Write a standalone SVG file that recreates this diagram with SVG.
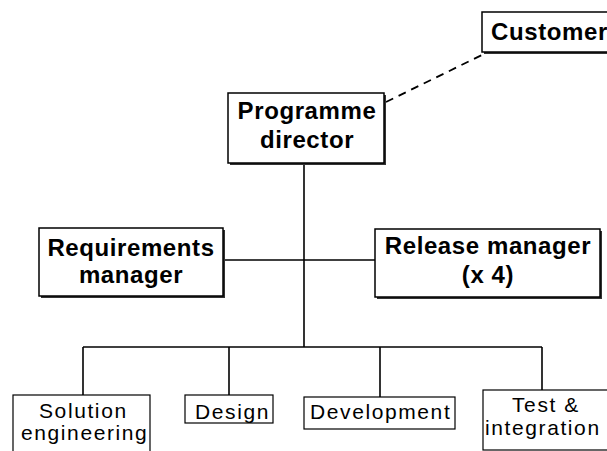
<svg xmlns="http://www.w3.org/2000/svg" width="607" height="451" viewBox="0 0 607 451">
<style>
.bg{fill:#fff}
.shadow{fill:#333}
.box{fill:#fff;stroke:#000;stroke-width:1.5}
.sbox{fill:#fff;stroke:#000;stroke-width:1.2}
.bt{font-family:"Liberation Sans",Arial,sans-serif;font-weight:bold;font-size:24px;letter-spacing:0.6px;fill:#000}
.nt{font-family:"Liberation Sans",Arial,sans-serif;font-size:21px;letter-spacing:1.6px;fill:#000}
.conn{stroke:#000;stroke-width:1.6;fill:none}
.dash{stroke:#000;stroke-width:1.8;fill:none;stroke-dasharray:8,6}
</style>
<rect class="bg" x="0" y="0" width="607" height="451"/>
<g id="connectors">
<line class="conn" x1="304" y1="163" x2="304" y2="347"/>
<line class="conn" x1="223" y1="260" x2="375" y2="260"/>
<line class="conn" x1="83" y1="347" x2="542" y2="347"/>
<line class="conn" x1="83" y1="347" x2="83" y2="395"/>
<line class="conn" x1="229" y1="347" x2="229" y2="395"/>
<line class="conn" x1="380" y1="347" x2="380" y2="397"/>
<line class="conn" x1="542" y1="347" x2="542" y2="390"/>
<line class="dash" x1="386" y1="102" x2="486" y2="53"/>
</g>
<g id="customer">
<rect class="shadow" x="484" y="14" width="140" height="40"/>
<rect class="box" x="482" y="12" width="140" height="40"/>
<text class="bt" x="491" y="40">Customer</text>
</g>
<g id="programme-director">
<rect class="shadow" x="230" y="95" width="156" height="70"/>
<rect class="box" x="228" y="93" width="156" height="70"/>
<text class="bt" x="307" y="119" text-anchor="middle">Programme</text>
<text class="bt" x="307" y="148" text-anchor="middle">director</text>
</g>
<g id="requirements-manager">
<rect class="shadow" x="41" y="230" width="184" height="68"/>
<rect class="box" x="39" y="228" width="184" height="68"/>
<text class="bt" x="131" y="256" text-anchor="middle">Requirements</text>
<text class="bt" x="131" y="283" text-anchor="middle">manager</text>
</g>
<g id="release-manager">
<rect class="shadow" x="377" y="231" width="225" height="68"/>
<rect class="box" x="375" y="229" width="225" height="68"/>
<text class="bt" x="488" y="254" text-anchor="middle">Release manager</text>
<text class="bt" x="488" y="283" text-anchor="middle">(x 4)</text>
</g>
<g id="solution-engineering">
<rect class="sbox" x="13" y="395" width="137" height="70"/>
<text class="nt" x="39" y="418">Solution</text>
<text class="nt" x="21" y="440">engineering</text>
</g>
<g id="design">
<rect class="sbox" x="185" y="395" width="88" height="28"/>
<text class="nt" x="195" y="419">Design</text>
</g>
<g id="development">
<rect class="sbox" x="304" y="397" width="151" height="32"/>
<text class="nt" x="310" y="419">Development</text>
</g>
<g id="test-integration">
<rect class="sbox" x="483" y="390" width="140" height="60"/>
<text class="nt" x="512" y="412">Test &amp;</text>
<text class="nt" x="485" y="435">integration</text>
</g>
</svg>
